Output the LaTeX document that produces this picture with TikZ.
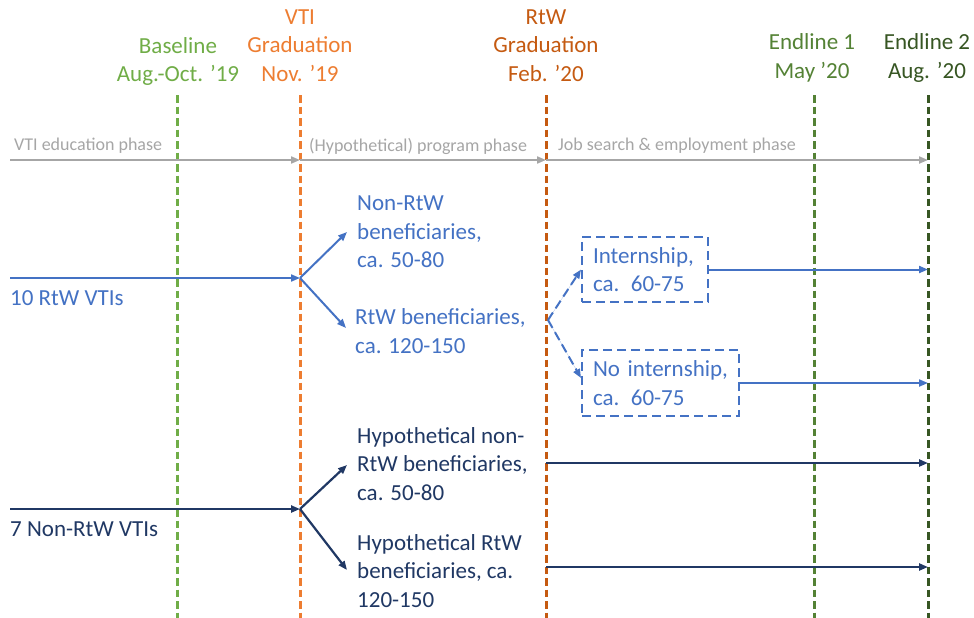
\documentclass[tikz,border=0pt]{standalone}
\usepackage{fontspec}
\setmainfont{Carlito}
\usetikzlibrary{arrows.meta}
\definecolor{cbase}{HTML}{70AD47}
\definecolor{cvti}{HTML}{ED7D31}
\definecolor{crtw}{HTML}{C55A11}
\definecolor{cend}{HTML}{548235}
\definecolor{cendd}{HTML}{375623}
\definecolor{cgray}{HTML}{A6A6A6}
\definecolor{cblue}{HTML}{4472C4}
\definecolor{cnavy}{HTML}{203864}
\begin{document}
\begin{tikzpicture}[x=1pt,y=-1pt,
  big/.style={font=\fontsize{23}{28.5}\selectfont, inner sep=0pt, align=center},
  lefttxt/.style={font=\fontsize{23}{28.3}\selectfont, inner sep=0pt, align=left, anchor=west},
  phase/.style={font=\fontsize{18}{21}\selectfont, inner sep=0pt, anchor=west, text=cgray},
  vline/.style={line width=3pt, dash pattern=on 7.5pt off 4pt},
  tip/.style={-{Triangle[length=9pt,width=7pt]}},
  grayarrow/.style={tip, draw=cgray, fill=cgray, line width=2pt},
  bluearrow/.style={tip, draw=cblue, fill=cblue, line width=2pt},
  navyarrow/.style={tip, draw=cnavy, fill=cnavy, line width=2.2pt},
  dbox/.style={draw=cblue, line width=2pt, dash pattern=on 9pt off 5pt, text=cblue,
     font=\fontsize{23}{28.3}\selectfont, align=left, inner xsep=11pt, inner ysep=0pt}
]
\useasboundingbox (0,0) rectangle (974,618);
\fill[white] (0,0) rectangle (974,618);

% timeline coordinates
\coordinate (baseT) at (177,95);  \coordinate (baseB) at (177,618);
\coordinate (vtiT)  at (300,95);  \coordinate (vtiB)  at (300,618);
\coordinate (rtwT)  at (546,95);  \coordinate (rtwB)  at (546,618);
\coordinate (e1T)   at (814,95);  \coordinate (e1B)   at (814,618);
\coordinate (e2T)   at (928,95);  \coordinate (e2B)   at (928,618);

\draw[vline, draw=cbase] (baseT) -- (baseB);
\draw[vline, draw=cvti]  (vtiT) -- (vtiB);
\draw[vline, draw=crtw]  (rtwT) -- (rtwB);
\draw[vline, draw=cend]  (e1T) -- (e1B);
\draw[vline, draw=cendd] (e2T) -- (e2B);

% headers
\node[big, text=cbase] (hbase) at (178,61.5) {Baseline\\Aug.-Oct. ’19};
\node[big, text=cvti]  (hvti)  at (300,45.5) {VTI\\Graduation\\Nov. ’19};
\node[big, text=crtw]  (hrtw)  at (546,45.5) {RtW\\Graduation\\Feb. ’20};
\node[big, text=cend]  (he1)   at (812,58) {Endline 1\\May ’20};
\node[big, text=cendd] (he2)   at (927,58) {Endline 2\\Aug. ’20};

% phases
\node[phase] (p1) at (14,146) {VTI education phase};
\node[phase] (p2) at (309,146) {(Hypothetical) program phase};
\node[phase] (p3) at (558,146) {Job search \& employment phase};
\coordinate (g0) at (10,160);
\coordinate (g1) at (300,160);
\coordinate (g2) at (546,160);
\coordinate (g3) at (928,160);
\draw[grayarrow] (g0) -- (g1);
\draw[grayarrow] (g1) -- (g2);
\draw[grayarrow] (g2) -- (g3);

% RtW VTIs (blue)
\node[lefttxt, text=cblue] (rtwvti) at (10,298) {10 RtW VTIs};
\coordinate (bstart) at (10,278);
\coordinate (bsplit) at (300,278);
\draw[bluearrow] (bstart) -- (bsplit);
\node[lefttxt, text=cblue] (nonben) at (357,232) {Non-RtW\\beneficiaries,\\ca. 50-80};
\node[lefttxt, text=cblue] (rtwben) at (355,331) {RtW beneficiaries,\\ca. 120-150};
\draw[bluearrow] (bsplit) -- ([xshift=-10pt,yshift=0pt]nonben.west);
\draw[bluearrow] (bsplit) -- ([xshift=-9pt,yshift=3pt]rtwben.west);

% internship boxes
\node[dbox, text width=104pt, minimum height=65pt] (intern) at (645,269.5) {Internship,\\ca. 60-75};
\node[dbox, text width=135pt, minimum height=66pt] (nointern) at (660.5,383) {No internship,\\ca. 60-75};
\coordinate (dsplit) at (548,320);
\draw[bluearrow, dash pattern=on 9pt off 5pt] (dsplit) -- (intern.west);
\draw[bluearrow, dash pattern=on 9pt off 5pt] (dsplit) -- ([yshift=5pt]nointern.west);
\draw[bluearrow] (intern.east) -- (intern.east -| e2T);
\draw[bluearrow] (nointern.east) -- (nointern.east -| e2T);

% Non-RtW VTIs (navy)
\node[lefttxt, text=cnavy] (nonvti) at (10,529) {7 Non-RtW VTIs};
\coordinate (nstart) at (10,509);
\coordinate (nsplit) at (300,509);
\draw[navyarrow] (nstart) -- (nsplit);
\node[lefttxt, text=cnavy] (hypnon) at (357,464) {Hypothetical non-\\RtW beneficiaries,\\ca. 50-80};
\node[lefttxt, text=cnavy] (hyprtw) at (357,571) {Hypothetical RtW\\beneficiaries, ca.\\120-150};
\draw[navyarrow] (nsplit) -- ([xshift=-10pt,yshift=-1pt]hypnon.west);
\draw[navyarrow] (nsplit) -- ([xshift=-10pt,yshift=1pt]hyprtw.west);
\coordinate (n1s) at (546,463); \coordinate (n1e) at (928,463);
\coordinate (n2s) at (546,567); \coordinate (n2e) at (928,567);
\draw[navyarrow] (n1s) -- (n1e);
\draw[navyarrow] (n2s) -- (n2e);
\end{tikzpicture}
\end{document}
